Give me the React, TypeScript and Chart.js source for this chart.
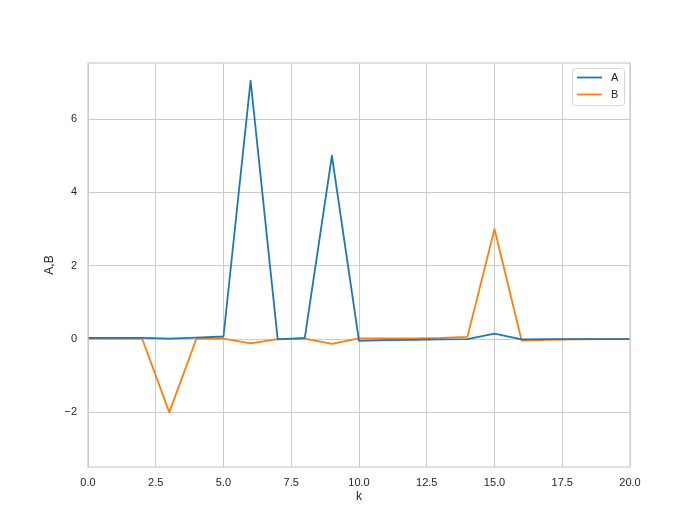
import React, { useEffect, useRef } from "react";
import { Chart, registerables } from "chart.js";

Chart.register(...registerables);

const kValues = [0, 1, 2, 3, 4, 5, 6, 7, 8, 9, 10, 11, 12, 13, 14, 15, 16, 17, 18, 19, 20];
const seriesA = [0.03, 0.03, 0.03, 0.01, 0.04, 0.07, 7.05, -0.01, 0.03, 5.0, -0.05, -0.03, -0.02, -0.01, 0.0, 0.15, -0.01, 0.0, 0.0, 0.0, 0.0];
const seriesB = [0.01, 0.01, 0.01, -2.0, 0.01, 0.01, -0.12, 0.0, 0.01, -0.13, 0.02, 0.02, 0.02, 0.03, 0.06, 3.0, -0.04, -0.02, -0.01, 0.0, 0.0];
const xTicks = [0, 2.5, 5, 7.5, 10, 12.5, 15, 17.5, 20];
const yTicks = [-2, 0, 2, 4, 6];
const seriesNames = ["A", "B"];
const seriesColors = ["#1f77b4", "#ff7f0e"];

const FONT = "'Liberation Sans', Arial, sans-serif";
const TEXT = "#262626";
const GRID = "#cccccc";

const framePlugin = {
  id: "frameAndLegend",
  afterDraw(chart: any) {
    const { ctx, chartArea } = chart;
    const { left, right, top, bottom } = chartArea;
    ctx.save();
    ctx.strokeStyle = GRID;
    ctx.lineWidth = 1.25;
    ctx.strokeRect(left, top, right - left, bottom - top);

    // legend
    const bx = 572.5, by = 68.5, bw = 52, bh = 37, r = 3;
    ctx.beginPath();
    ctx.moveTo(bx + r, by);
    ctx.lineTo(bx + bw - r, by);
    ctx.quadraticCurveTo(bx + bw, by, bx + bw, by + r);
    ctx.lineTo(bx + bw, by + bh - r);
    ctx.quadraticCurveTo(bx + bw, by + bh, bx + bw - r, by + bh);
    ctx.lineTo(bx + r, by + bh);
    ctx.quadraticCurveTo(bx, by + bh, bx, by + bh - r);
    ctx.lineTo(bx, by + r);
    ctx.quadraticCurveTo(bx, by, bx + r, by);
    ctx.closePath();
    ctx.fillStyle = "rgba(255,255,255,0.8)";
    ctx.fill();
    ctx.strokeStyle = "#d6d6d6";
    ctx.lineWidth = 1;
    ctx.stroke();

    ctx.font = `11px ${FONT}`;
    ctx.textBaseline = "middle";
    ctx.textAlign = "left";
    seriesNames.forEach((name, i) => {
      const y = 77.5 + i * 17;
      ctx.beginPath();
      ctx.strokeStyle = seriesColors[i];
      ctx.lineWidth = 1.8;
      ctx.moveTo(577, y);
      ctx.lineTo(602, y);
      ctx.stroke();
      ctx.fillStyle = TEXT;
      ctx.fillText(name, 611, y + 0.5);
    });
    ctx.restore();
  },
};

export default function App() {
  const canvasRef = useRef<HTMLCanvasElement | null>(null);

  useEffect(() => {
    if (!canvasRef.current) return;
    const chart = new Chart(canvasRef.current, {
      type: "line",
      data: {
        datasets: [
          {
            label: seriesNames[0],
            data: kValues.map((k, i) => ({ x: k, y: seriesA[i] })),
            borderColor: seriesColors[0],
            backgroundColor: seriesColors[0],
            borderWidth: 1.8,
            borderJoinStyle: "round",
            borderCapStyle: "round",
            pointRadius: 0,
            tension: 0,
          },
          {
            label: seriesNames[1],
            data: kValues.map((k, i) => ({ x: k, y: seriesB[i] })),
            borderColor: seriesColors[1],
            backgroundColor: seriesColors[1],
            borderWidth: 1.8,
            borderJoinStyle: "round",
            borderCapStyle: "round",
            pointRadius: 0,
            tension: 0,
          },
        ],
      },
      options: {
        animation: false,
        responsive: false,
        layout: { padding: { left: 0, top: 63, right: 70, bottom: 0 } },
        plugins: {
          legend: { display: false },
          tooltip: { enabled: false },
        },
        scales: {
          x: {
            type: "linear",
            min: 0,
            max: 20,
            afterBuildTicks: (s: any) => {
              s.ticks = xTicks.map((v) => ({ value: v }));
            },
            afterFit: (s: any) => {
              s.height = 58;
            },
            grid: { color: GRID, lineWidth: 1, drawTicks: false },
            border: { display: false },
            ticks: {
              padding: 9,
              maxRotation: 0,
              autoSkip: false,
              color: TEXT,
              font: { family: FONT, size: 11 },
              callback: (v: any) => Number(v).toFixed(1),
            },
            title: {
              display: true,
              text: "k",
              color: TEXT,
              font: { family: FONT, size: 12 },
              padding: 21,
            },
          },
          y: {
            type: "linear",
            min: -3.49,
            max: 7.53,
            afterBuildTicks: (s: any) => {
              s.ticks = yTicks.map((v) => ({ value: v }));
            },
            afterFit: (s: any) => {
              s.width = 88;
            },
            grid: { color: GRID, lineWidth: 1, drawTicks: false },
            border: { display: false },
            ticks: {
              padding: 11,
              color: TEXT,
              font: { family: FONT, size: 11 },
              callback: (v: any) => (v < 0 ? "\u2212" + Math.abs(v) : String(v)),
            },
            title: {
              display: true,
              text: "A,B",
              color: TEXT,
              font: { family: FONT, size: 12 },
              padding: 42,
            },
          },
        },
      },
      plugins: [framePlugin],
    } as any);
    return () => chart.destroy();
  }, []);

  return (
    <div style={{ position: "fixed", left: 0, top: 0, width: 700, height: 525, background: "#ffffff" }}>
      <canvas ref={canvasRef} width={700} height={525} style={{ width: 700, height: 525 }} />
    </div>
  );
}
